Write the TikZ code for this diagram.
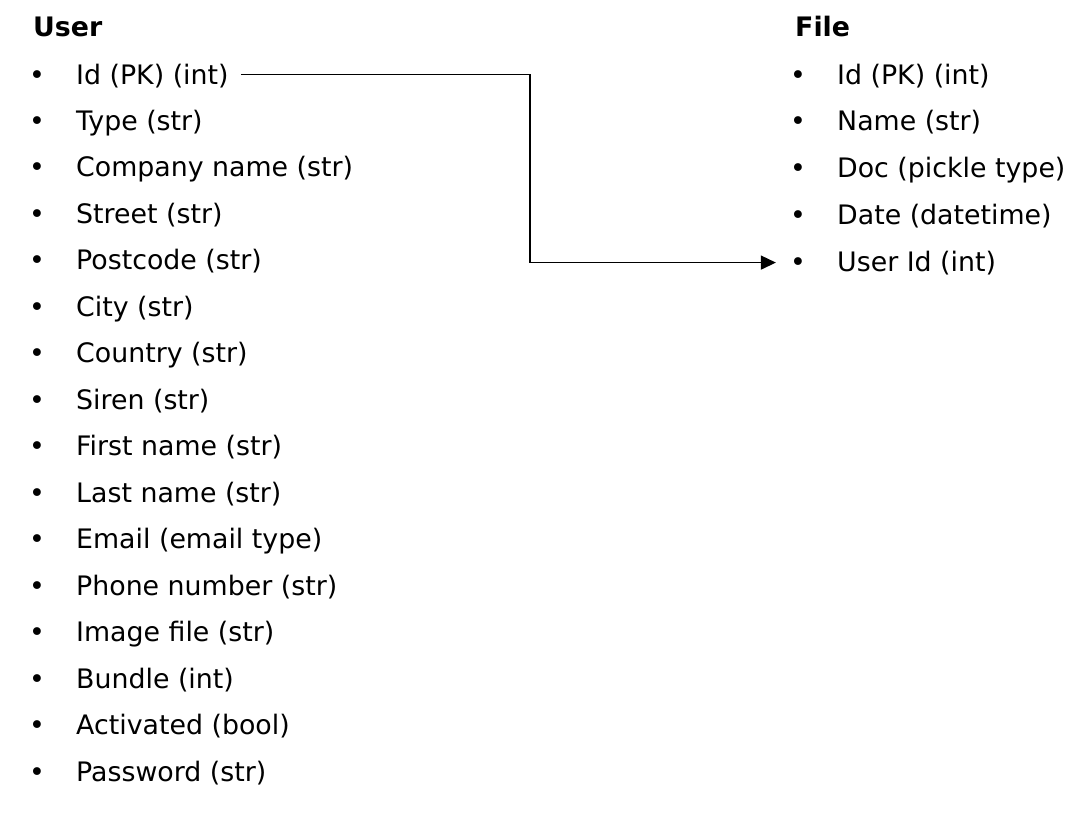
\documentclass[tikz,border=0pt]{standalone}
\usepackage{fontspec}
\setmainfont{DejaVu Sans}
\usetikzlibrary{arrows.meta}
\tikzset{
  txt/.style={anchor=base west, inner sep=0pt, font=\fontsize{26.8}{32}\selectfont},
  hdr/.style={anchor=base west, inner sep=0pt, font=\fontsize{26.8}{32}\selectfont\bfseries},
  bul/.style={anchor=base, inner sep=0pt, font=\fontsize{26.8}{32}\selectfont},
  link/.style={line width=1.4pt, -{Triangle[length=15pt,width=14pt]}}
}
\begin{document}
\begin{tikzpicture}[x=1pt,y=-1pt]
\path[use as bounding box, fill=white] (0,0) rectangle (1088,812);
% headers
\node[hdr] (uhead) at (33,36) {User};
\node[hdr] (fhead) at (795,36) {File};
% user rows
\foreach \t [count=\i] in {Id (PK) (int),Type (str),Company name (str),Street (str),Postcode (str),City (str),Country (str),Siren (str),First name (str),Last name (str),Email (email type),Phone number (str),Image file (str),Bundle (int),Activated (bool),Password (str)}{
  \pgfmathsetmacro{\yy}{74+(\i-1)*46.47+10}
  \node[bul] (ub\i) at (37,\yy) {•};
  \node[txt] (u\i) at (76,\yy) {\t};
}
% file rows
\foreach \t [count=\i] in {Id (PK) (int),Name (str),Doc (pickle type),Date (datetime),User Id (int)}{
  \pgfmathsetmacro{\yy}{74+(\i-1)*46.75+10}
  \node[bul] (fb\i) at (798,\yy) {•};
  \node[txt] (f\i) at (837,\yy) {\t};
}
\coordinate (turnx) at (530,0);
\coordinate (lstart) at ([xshift=12pt,yshift=1pt]u1.east);
\coordinate (lend) at ([xshift=-14pt,yshift=1.5pt]fb5.west);
\draw[link] (lstart) -- (lstart -| turnx) |- (lend);
\end{tikzpicture}
\end{document}
